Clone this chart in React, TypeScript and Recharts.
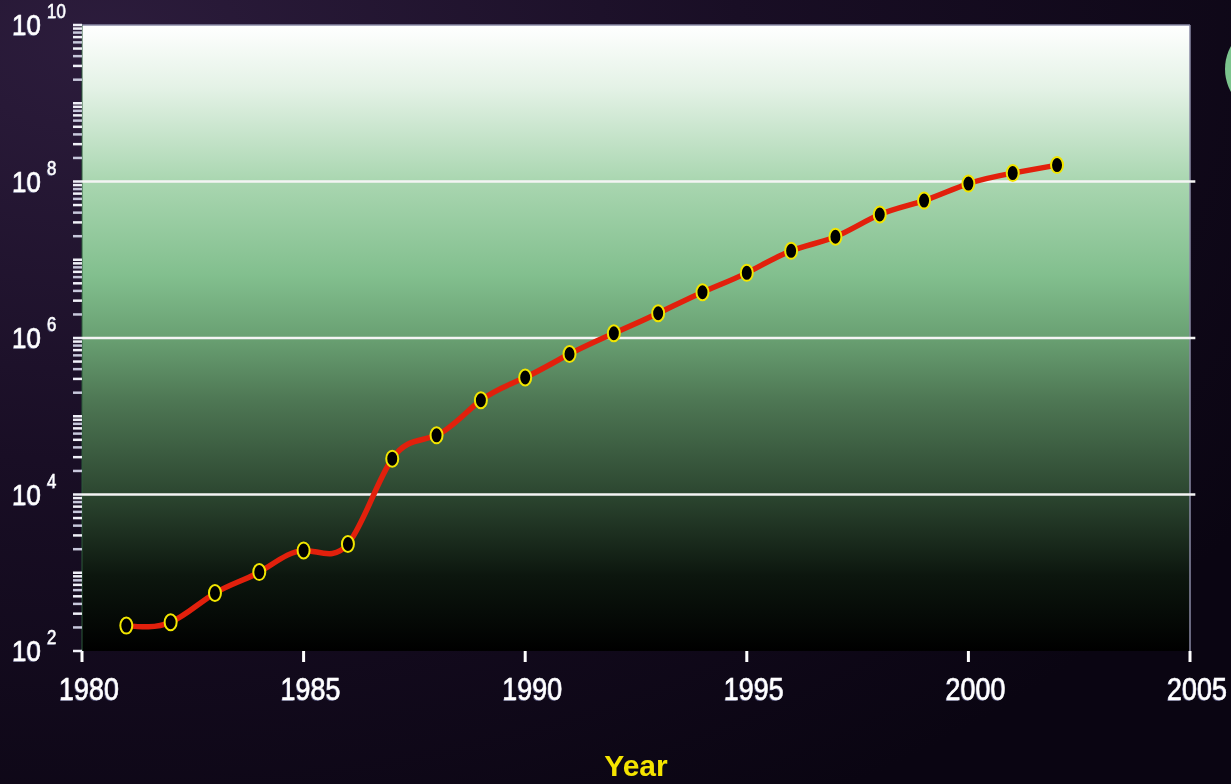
import React from 'react';
import { LineChart, Line, XAxis, YAxis, CartesianGrid, ReferenceLine } from 'recharts';

const years = [1981, 1982, 1983, 1984, 1985, 1986, 1987, 1988, 1989, 1990, 1991, 1992, 1993, 1994, 1995, 1996, 1997, 1998, 1999, 2000, 2001, 2002];
const counts = [211, 233, 550, 1020, 1930, 2330, 28700, 57000, 160000, 313000, 624000, 1150000, 2070000, 3850000, 6800000, 13000000, 19700000, 37800000, 57000000, 94000000, 128000000, 162000000];
const xTicks = [1980, 1985, 1990, 1995, 2000, 2005];
const decades = [2, 3, 4, 5, 6, 7, 8, 9];
const minorMultipliers = [1, 2, 3, 4, 5, 6, 7, 8, 9];
const gridValues = [1e4, 1e6, 1e8];
const xLabel = 'Year';

const yTicks: number[] = [];
decades.forEach((d) => minorMultipliers.forEach((k) => yTicks.push(k * Math.pow(10, d))));
yTicks.push(1e10);

const data = years.map((year, i) => ({ year, count: counts[i] }));

const FONT = 'Arial, "Liberation Sans", sans-serif';

const YTick = (props: any) => {
  const { x, y, payload } = props;
  const v = payload.value as number;
  const e = Math.log10(v);
  const re = Math.round(e);
  const isMajor = Math.abs(e - re) < 1e-9 && re % 2 === 0;
  const k = Math.round(v / Math.pow(10, Math.floor(e + 1e-9)));
  const shade = k % 2 === 0 ? '#c8c8dc' : '#f0f0f8';
  return (
    <g>
      <line x1={x - 9} x2={x} y1={y} y2={y} stroke={shade} strokeWidth={2.5} />
      {isMajor && (
        <g fontFamily={FONT}>
          <text transform={`translate(${x - 71},${y + 11}) scale(1,1.13)`} fontSize={26} fill="#55557a">10</text>
          <text transform={`translate(${x - 70},${y + 10}) scale(1,1.13)`} fontSize={26} fill="#ffffff" stroke="#ffffff" strokeWidth={0.5}>10</text>
          <text transform={`translate(${x - 36},${y - 6}) scale(1,1.15)`} fontSize={17} fill="#55557a">{re}</text>
          <text transform={`translate(${x - 35},${y - 7}) scale(1,1.15)`} fontSize={17} fill="#ffffff" stroke="#ffffff" strokeWidth={0.4}>{re}</text>
        </g>
      )}
    </g>
  );
};

const XTick = (props: any) => {
  const { x, y, payload } = props;
  return (
    <g fontFamily={FONT} fontSize={27} textAnchor="middle">
      <text transform={`translate(${x + 6},${y + 39}) scale(1,1.18)`} fill="#55557a">{payload.value}</text>
      <text transform={`translate(${x + 7},${y + 38}) scale(1,1.18)`} fill="#ffffff" stroke="#ffffff" strokeWidth={0.5}>{payload.value}</text>
    </g>
  );
};

const Dot = (props: any) => {
  const { cx, cy, index } = props;
  if (cx == null || cy == null) return <g key={index} />;
  return <ellipse key={index} cx={cx} cy={cy} rx={6} ry={8} fill="#000000" stroke="#f2e600" strokeWidth={2} />;
};

export default function App() {
  return (
    <div
      style={{
        position: 'fixed',
        left: 0,
        top: 0,
        width: 1231,
        height: 784,
        overflow: 'hidden',
        background: 'radial-gradient(ellipse at 8% 5%, #2c1c3c 0%, #190e25 40%, #0a0512 85%)',
      }}
    >
      <div
        style={{
          position: 'absolute',
          left: 1225,
          top: 22,
          width: 94,
          height: 94,
          borderRadius: '50%',
          background: '#7cc48e',
        }}
      />
      <LineChart width={1231} height={784} data={data} margin={{ top: 25, right: 41, bottom: 0, left: 0 }}>
        <defs>
          <linearGradient id="plotBg" x1="0" y1="0" x2="0" y2="1">
            <stop offset="0" stopColor="#ffffff" />
            <stop offset="0.1" stopColor="#e4f2e6" />
            <stop offset="0.25" stopColor="#a9d6b0" />
            <stop offset="0.4" stopColor="#82bf8e" />
            <stop offset="0.5" stopColor="#69a072" />
            <stop offset="0.6" stopColor="#4e7754" />
            <stop offset="0.75" stopColor="#2c4630" />
            <stop offset="0.88" stopColor="#0c160e" />
            <stop offset="1" stopColor="#000000" />
          </linearGradient>
        </defs>
        <CartesianGrid horizontal={false} vertical={false} fill="url(#plotBg)" />
        <ReferenceLine segment={[{ x: 1980, y: 1e10 }, { x: 2005, y: 1e10 }]} stroke="#8a8aa6" strokeWidth={1.5} />
        <ReferenceLine segment={[{ x: 2005, y: 1e2 }, { x: 2005, y: 1e10 }]} stroke="#8a8aa6" strokeWidth={1.5} />
        <ReferenceLine segment={[{ x: 1980, y: 1e2 }, { x: 1980, y: 1e10 }]} stroke="#2d5a3a" strokeWidth={1} />
        {gridValues.map((v) => (
          <ReferenceLine
            key={v}
            segment={[{ x: 1980, y: v }, { x: 2005.12, y: v }]}
            ifOverflow="visible"
            stroke="#f4f4f4"
            strokeWidth={2.5}
          />
        ))}
        <XAxis
          dataKey="year"
          type="number"
          domain={[1980, 2005]}
          ticks={xTicks}
          interval={0}
          height={133}
          axisLine={false}
          tickLine={{ stroke: '#ffffff', strokeWidth: 3 }}
          tickSize={11}
          tickMargin={0}
          tick={<XTick />}
          label={{ value: xLabel, position: 'insideBottom', offset: 8, fill: '#f5e400', fontSize: 30, fontWeight: 'bold', fontFamily: FONT }}
        />
        <YAxis
          scale="log"
          domain={[1e2, 1e10]}
          ticks={yTicks}
          interval={0}
          width={82}
          axisLine={false}
          tickLine={false}
          tickSize={0}
          tickMargin={0}
          tick={<YTick />}
          allowDataOverflow
        />
        <Line
          dataKey="count"
          type="natural"
          stroke="#e2200c"
          strokeWidth={5.5}
          dot={<Dot />}
          isAnimationActive={false}
        />
      </LineChart>
    </div>
  );
}
